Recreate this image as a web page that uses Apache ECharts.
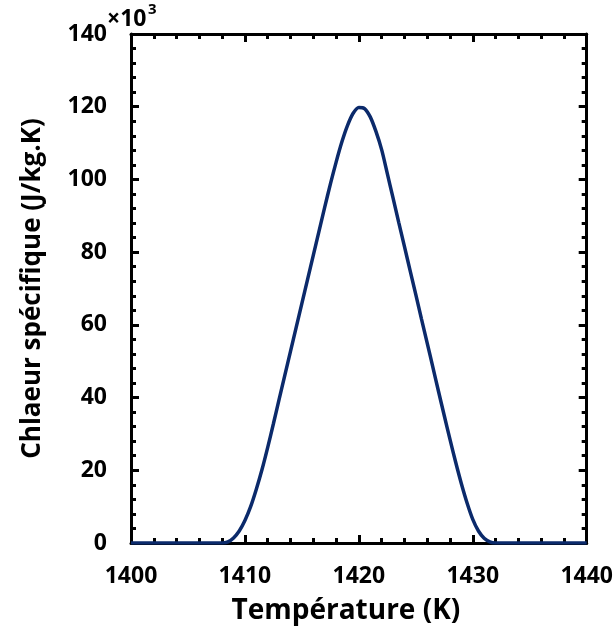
<!DOCTYPE html>
<html>
<head>
<meta charset="utf-8">
<script src="https://cdn.jsdelivr.net/npm/echarts@6/dist/echarts.min.js"></script>
<style>html,body{margin:0;padding:0;background:#fff}#c{width:616px;height:630px}</style>
</head>
<body>
<div id="c"></div>
<script>
// Temperature (K)
const temperature = [1400, 1408, 1408.5, 1409, 1409.5, 1410, 1410.5, 1411, 1411.5, 1412, 1412.5, 1413, 1413.5, 1414, 1414.5, 1415, 1415.5, 1416, 1416.5, 1417, 1417.5, 1418, 1418.5, 1419, 1419.5, 1420, 1420.5, 1421, 1421.5, 1422, 1422.5, 1423, 1423.5, 1424, 1424.5, 1425, 1425.5, 1426, 1426.5, 1427, 1427.5, 1428, 1428.5, 1429, 1429.5, 1430, 1430.5, 1431, 1431.5, 1432, 1440];
// Specific heat (x10^3 J/kg.K)
const specificHeat = [0, 0, 0.3, 1.4, 3.3, 6.2, 10, 14.8, 20.2, 26.3, 32.8, 39.5, 46.1, 52.7, 59.3, 65.9, 72.5, 79.1, 85.7, 92.3, 98.7, 104.7, 110.2, 114.8, 118.2, 119.8, 119.5, 117.2, 113.2, 108.2, 101.6, 94.9, 88.2, 81.6, 74.9, 68.3, 61.6, 55, 48.3, 41.6, 35, 28.5, 22.2, 16.3, 11, 6.5, 3.3, 1.3, 0.3, 0, 0];
const xTicks = [1400, 1410, 1420, 1430, 1440];
const yTicks = [0, 20, 40, 60, 80, 100, 120, 140];

const FONT = 'Open Sans';
const chart = echarts.init(document.getElementById('c'));
const common = {
  axisLine: {show: true, onZero: false, lineStyle: {color: '#000', width: 3}},
  axisTick: {show: true, inside: true, length: 8, lineStyle: {color: '#000', width: 3}},
  minorTick: {show: true, splitNumber: 5, length: 5, lineStyle: {color: '#000', width: 3}},
  splitLine: {show: false}
};
chart.setOption({
  animation: false,
  grid: {left: 131, right: 29, top: 34, bottom: 85},
  xAxis: [
    Object.assign({
      type: 'value', min: xTicks[0], max: xTicks[xTicks.length - 1], interval: 10,
      position: 'bottom',
      name: 'Température (K)', nameLocation: 'middle', nameGap: 54,
      nameTextStyle: {fontFamily: FONT, fontWeight: 'bold', fontSize: 28, color: '#000', padding: [0, 26, 0, 0]},
      axisLabel: {margin: 22, fontFamily: FONT, fontWeight: 'bold', fontSize: 23, color: '#000',
        formatter: v => String(v)}
    }, common),
    Object.assign({
      type: 'value', min: xTicks[0], max: xTicks[xTicks.length - 1], interval: 10,
      position: 'top', axisLabel: {show: false}
    }, common)
  ],
  yAxis: [
    Object.assign({
      type: 'value', min: yTicks[0], max: yTicks[yTicks.length - 1], interval: 20,
      position: 'left',
      name: 'Chlaeur spécifique (J/kg.K)', nameLocation: 'middle', nameGap: 85,
      nameTextStyle: {fontFamily: FONT, fontWeight: 'bold', fontSize: 26, color: '#000'},
      axisLabel: {margin: 24, fontFamily: FONT, fontWeight: 'bold', fontSize: 23, color: '#000',
        formatter: v => String(v)}
    }, common),
    Object.assign({
      type: 'value', min: yTicks[0], max: yTicks[yTicks.length - 1], interval: 20,
      position: 'right', axisLabel: {show: false}
    }, common)
  ],
  graphic: [
    {type: 'text', left: 107, top: 8,
      style: {text: '×10', fontFamily: FONT, fontWeight: 'bold', fontSize: 23, fill: '#000'}},
    {type: 'text', left: 148, top: 2,
      style: {text: '3', fontFamily: FONT, fontWeight: 'bold', fontSize: 15, fill: '#000'}}
  ],
  series: [{
    type: 'line',
    data: temperature.map((t, i) => [t, specificHeat[i]]),
    smooth: 0.3,
    showSymbol: false,
    lineStyle: {color: '#0b2a6b', width: 3.5},
    z: 1
  }]
});
</script>
</body>
</html>
